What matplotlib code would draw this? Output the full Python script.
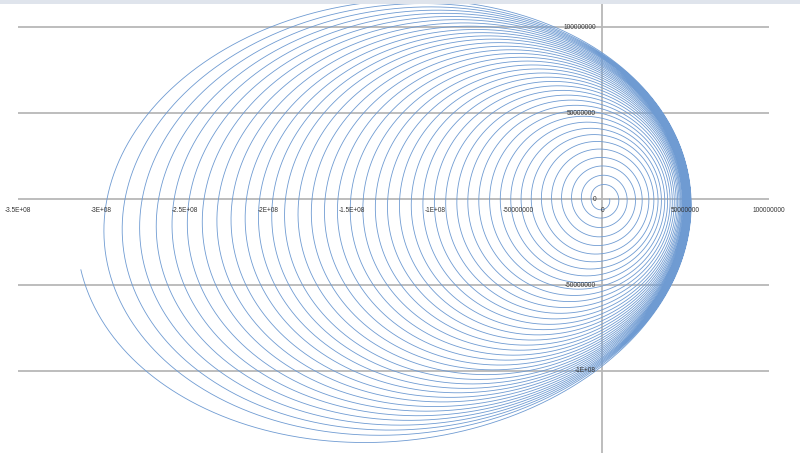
import numpy as np
import matplotlib
matplotlib.use("Agg")
import matplotlib.pyplot as plt
from matplotlib import font_manager
from matplotlib.patches import Rectangle

# ---- data (units: 1e6 metres) ----
# far-side (left) distance of each successive loop
loop_far = [6.6, 12.4, 18.3, 24.3, 30.3, 36.4, 42.5, 48.6, 54.8, 61.1,
            67.5, 74.0, 80.6, 87.2, 93.9, 100.7, 107.6, 114.6, 121.7, 128.9,
            136.2, 143.7, 151.3, 159.0, 166.8, 174.7, 182.7, 190.8, 198.5, 206.5,
            214.5, 223.0, 231.5, 240.3, 249.3, 258.5, 268.0, 278.0, 288.5, 299.5,
            316.0]
# near-side (right) distance of each loop
loop_near = [4.5, 10.0, 15.0, 20.0, 24.0, 28.0, 31.0, 33.5, 35.5, 37.5,
             39.2, 40.7, 42.0, 43.2, 44.3, 45.2, 46.0, 46.7, 47.3, 47.9,
             48.4, 48.9, 49.3, 49.7, 50.1, 50.4, 50.7, 51.0, 51.3, 51.5,
             51.7, 51.9, 52.1, 52.3, 52.5, 52.6, 52.7, 52.8, 52.9, 53.0,
             53.2]
SCALE = 1e6
APSE_TILT_DEG = 5.2

x_ticks = [-3.5e8, -3e8, -2.5e8, -2e8, -1.5e8, -1e8, -5e7, 0, 5e7, 1e8]
x_tick_labels = ["-3.5E+08", "-3E+08", "-2.5E+08", "-2E+08", "-1.5E+08",
                 "-1E+08", "-50000000", "0", "50000000", "100000000"]
y_ticks = [1e8, 5e7, 0, -5e7, -1e8]
y_tick_labels = ["100000000", "50000000", "0", "-50000000", "-1E+08"]

# ---- build the orbit-like spiral (clockwise, focus at origin) ----
n = len(loop_far)
k = np.arange(n)
u_far = 2 * np.pi * k + np.pi
u_near = 2 * np.pi * k
u_end = 2 * np.pi * (n - 1) + np.pi - 0.131
u = np.linspace(0, u_end, 80000)
ra = np.interp(u, u_far, np.array(loop_far) * SCALE)
rp = np.interp(u, u_near, np.array(loop_near) * SCALE)
p = 2 * ra * rp / (ra + rp)
e = (ra - rp) / (ra + rp)
w = np.deg2rad(APSE_TILT_DEG)
theta = -u
r = p / (1 + e * np.cos(theta - w))
x = r * np.cos(theta)
y = r * np.sin(theta)

# ---- figure ----
W, H = 800, 453
fig = plt.figure(figsize=(W / 100, H / 100), dpi=100)
ax = fig.add_axes([0, 0, 1, 1])
ax.set_axis_off()

px_x = 4.5e8 / 751.0
px_y = 2e8 / 344.0
ax.set_xlim(-3.5e8 - 18 * px_x, 1e8 + 31 * px_x)
ax.set_ylim(-1e8 - 82 * px_y, 1e8 + 27 * px_y)

grid_c = "#b8b8b8"
ax.hlines(y_ticks, x_ticks[0], x_ticks[-1], colors=grid_c, lw=1.3, zorder=1)
ax.axvline(0, color=grid_c, lw=1.3, zorder=1)

ax.plot(x, y, color="#6f9bd2", lw=0.6, zorder=2, solid_joinstyle="round")

avail = {f.name for f in font_manager.fontManager.ttflist}
if "Liberation Sans Narrow" in avail:
    fam, fs = "Liberation Sans Narrow", 5.6
else:
    fam, fs = "Liberation Sans", 4.7
tc = "#333333"
for xv, lab in zip(x_ticks, x_tick_labels):
    ax.annotate(lab, (xv, 0), xytext=(0, -11), textcoords="offset pixels",
                ha="center", va="center", fontsize=fs, family=fam, color=tc, zorder=3)
for yv, lab in zip(y_ticks, y_tick_labels):
    ax.annotate(lab, (0, yv), xytext=(-6, 0), textcoords="offset pixels",
                ha="right", va="center", fontsize=fs, family=fam, color=tc, zorder=3)

# spreadsheet header strip at the very top
fig.add_artist(Rectangle((0, 1 - 3.5 / H), 1, 3.5 / H, transform=fig.transFigure,
                         facecolor="#dfe4ec", edgecolor="none"))

fig.savefig("out.png", dpi=100)
